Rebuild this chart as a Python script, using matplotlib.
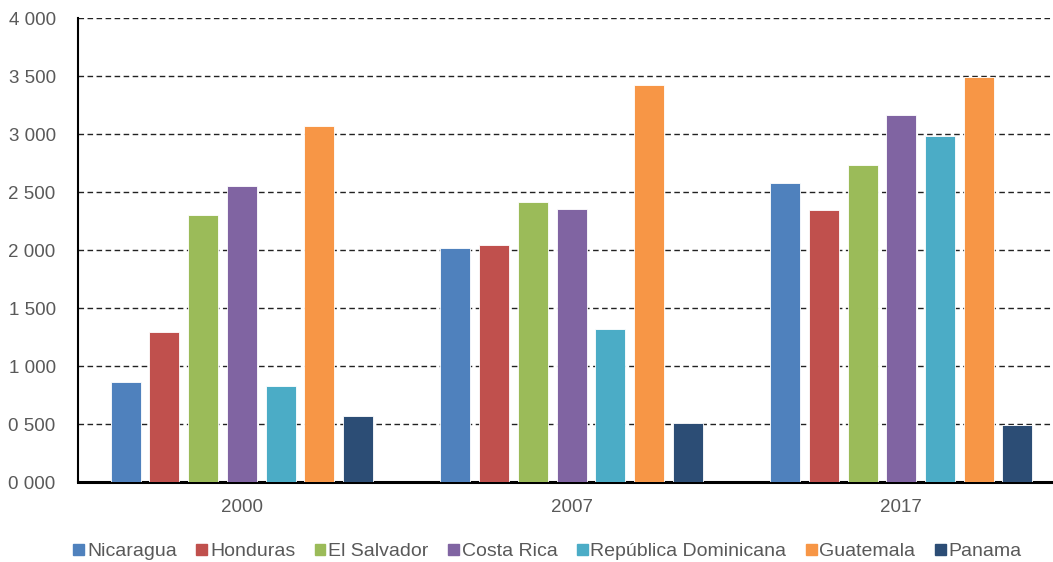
import matplotlib.pyplot as plt
from matplotlib.patches import Patch
import numpy as np

plt.rcParams['font.family'] = ['Liberation Sans', 'DejaVu Sans']

years = ['2000', '2007', '2017']
countries = ['Nicaragua', 'Honduras', 'El Salvador', 'Costa Rica',
             'República Dominicana', 'Guatemala', 'Panama']
colors = ['#4F81BD', '#C0504D', '#9BBB59', '#8064A2', '#4BACC6', '#F79646', '#2C4D75']

nicaragua = [860, 2020, 2580]
honduras = [1290, 2043, 2345]
el_salvador = [2300, 2416, 2735]
costa_rica = [2550, 2358, 3160]
rep_dominicana = [825, 1318, 2985]
guatemala = [3070, 3427, 3490]
panama = [570, 505, 490]

series = [nicaragua, honduras, el_salvador, costa_rica, rep_dominicana, guatemala, panama]

fig = plt.figure(figsize=(10.53, 5.62), dpi=100)
ax = fig.add_axes([0.074, 0.1423, 0.926, 0.8256])

x = np.arange(len(years))
step = 0.1174
width = 0.091
for i, (vals, c, name) in enumerate(zip(series, colors, countries)):
    ax.bar(x + (i - 3) * step, vals, width, color=c, edgecolor='white',
           linewidth=0.6, label=name, zorder=3)

ax.set_xlim(-0.497, 2.46)
ax.set_ylim(0, 4000)
ax.set_yticks(np.arange(0, 4001, 500))
ax.set_yticklabels([f"{v // 1000} {v % 1000:03d}" for v in range(0, 4001, 500)])
ax.set_xticks(x)
ax.set_xticklabels(years)
ax.tick_params(axis='both', length=0, labelsize=13.5, colors='#595959')
ax.tick_params(axis='y', pad=16)
ax.tick_params(axis='x', pad=12)

ax.yaxis.grid(True, linestyle=(0, (4, 2.5)), color='#222222', linewidth=1, zorder=0)
ax.set_axisbelow(True)
for s in ['top', 'right']:
    ax.spines[s].set_visible(False)
ax.spines['left'].set_linewidth(1.5)
ax.spines['bottom'].set_linewidth(2.2)
ax.spines['left'].set_color('black')
ax.spines['bottom'].set_color('black')

handles = [Patch(color=c, label=n) for c, n in zip(colors, countries)]
fig.legend(handles=handles, loc='center', bbox_to_anchor=(0.52, 0.018), ncol=7,
           frameon=False, fontsize=14, handlelength=0.55, handleheight=0.55,
           handletextpad=0.15, columnspacing=1.0, labelcolor='#595959')

fig.savefig('out.png', dpi=100)
